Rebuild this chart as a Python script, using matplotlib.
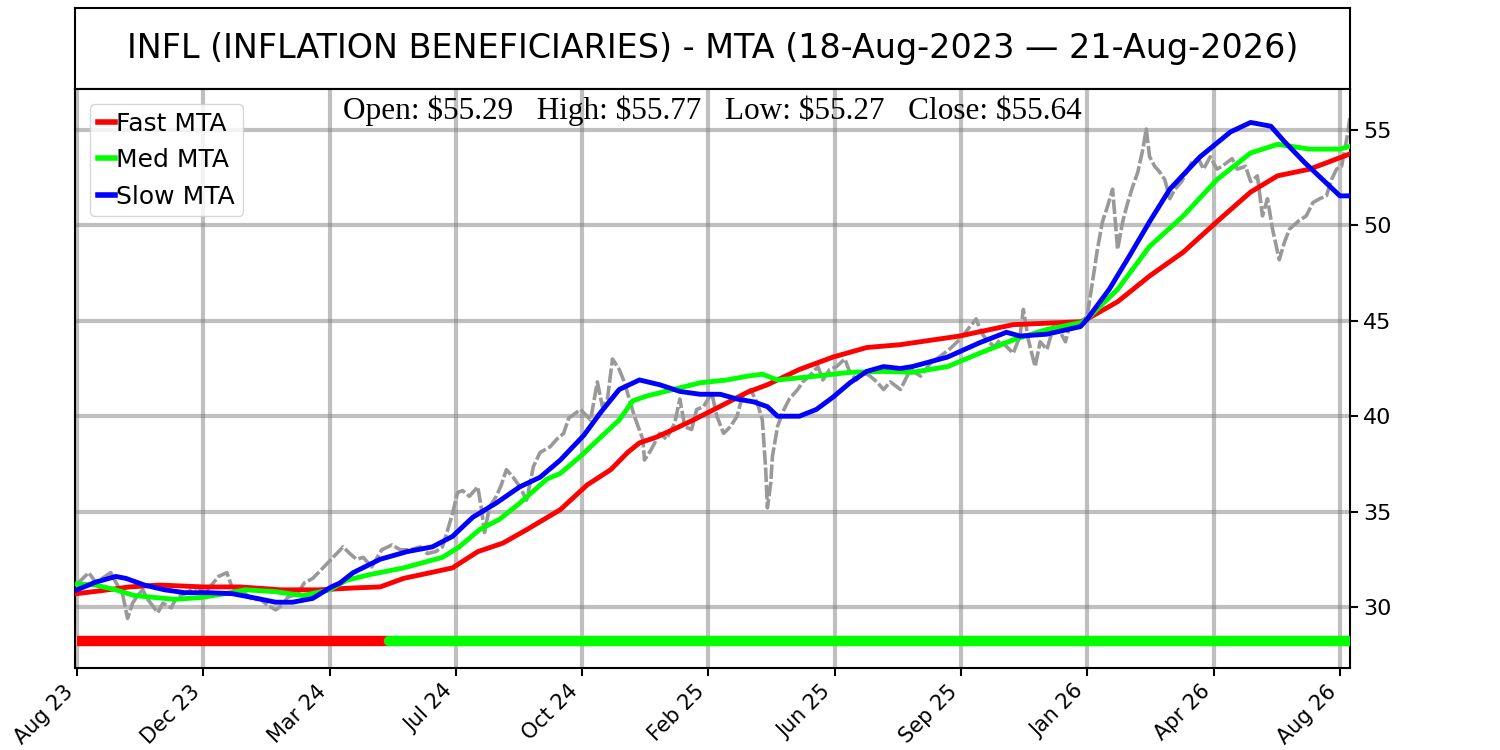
import matplotlib
matplotlib.use("Agg")
import matplotlib.pyplot as plt

# ---------------- data ----------------
title_text = "INFL (INFLATION BENEFICIARIES) - MTA (18-Aug-2023 \u2014 21-Aug-2026)"
last_open, last_high, last_low, last_close = 55.29, 55.77, 55.27, 55.64
n_bars = 757

tick_labels = ["Aug 23", "Dec 23", "Mar 24", "Jul 24", "Oct 24", "Feb 25",
               "Jun 25", "Sep 25", "Jan 26", "Apr 26", "Aug 26"]
tick_step = 75

price_idx = [0, 7, 11, 15, 20, 23, 27, 30, 33, 36, 39, 42, 48, 51, 56, 59, 64, 68, 72, 75,
             79, 84, 89, 92, 96, 100, 104, 109, 113, 118, 122, 125, 131, 135, 140, 145, 151,
             158, 162, 166, 170, 175, 181, 187, 192, 198, 204, 208, 213, 217, 220, 223, 226,
             229, 233, 238, 240, 242, 245, 249, 252, 255, 259, 263, 267, 271, 275, 281, 285,
             289, 292, 299, 305, 309, 312, 315, 318, 322, 325, 328, 331, 336, 337, 341, 346,
             350, 355, 358, 361, 365, 368, 372, 377, 380, 384, 388, 392, 395, 400, 404, 407,
             409, 410, 412, 413, 416, 419, 423, 428, 431, 435, 440, 443, 447, 451, 456, 459,
             463, 467, 471, 475, 479, 483, 489, 495, 501, 507, 512, 518, 524, 529, 534, 537,
             541, 545, 548, 552, 556, 560, 562, 565, 569, 572, 576, 580, 584, 587, 590, 594,
             597, 600, 603, 606, 609, 612, 615, 617, 618, 621, 624, 627, 630, 633, 635, 637,
             640, 643, 646, 649, 652, 656, 659, 662, 666, 669, 673, 677, 680, 686, 689, 694,
             697, 701, 704, 707, 710, 714, 717, 720, 725, 730, 734, 738, 742, 745, 748, 751,
             754, 756]
price_val = [31.2, 31.8, 31.3, 31.5, 31.8, 31.3, 30.7, 29.4, 30.2, 30.6, 30.9, 30.4, 29.7, 30.2,
             29.95, 30.5, 30.7, 30.9, 31.05, 30.7, 31.05, 31.6, 31.8, 31.05, 30.8, 30.7, 30.4,
             30.4, 30.1, 29.85, 30.1, 30.5, 30.7, 31.26, 31.5, 31.95, 32.5, 33.15, 32.8, 32.5,
             32.6, 32.1, 33.0, 33.25, 33.0, 33.0, 33.15, 32.8, 32.9, 33.15, 34.0, 34.9, 36.0,
             36.1, 35.8, 36.3, 35.25, 33.9, 35.25, 35.8, 36.4, 37.2, 36.8, 36.3, 35.6, 37.35,
             38.1, 38.4, 38.8, 39.1, 39.9, 40.35, 39.8, 41.8, 40.5, 40.9, 43.0, 42.45, 41.8,
             40.9, 40.0, 38.8, 37.7, 38.25, 39.1, 38.8, 39.65, 40.9, 39.45, 39.3, 40.35, 40.5,
             41.2, 40.0, 39.1, 39.45, 40.0, 41.0, 41.4, 40.7, 39.8, 37.2, 35.2, 36.5, 37.9,
             39.45, 40.2, 40.9, 41.4, 41.8, 42.1, 42.6, 41.9, 42.45, 42.6, 43.0, 42.3, 41.9,
             42.3, 42.1, 41.8, 41.4, 41.8, 41.4, 42.45, 42.1, 42.8, 43.1, 43.5, 44.0, 44.55,
             45.1, 44.4, 43.9, 43.65, 44.0, 43.65, 43.3, 44.2, 45.6, 44.0, 42.6, 43.9, 43.5,
             44.7, 44.4, 43.9, 44.9, 44.7, 44.9, 45.3, 47.0, 48.75, 50.2, 51.0, 51.9, 49.8,
             48.75, 50.2, 51.2, 52.05, 52.8, 54.0, 55.05, 53.6, 53.1, 52.8, 52.4, 51.4, 51.9,
             52.3, 52.8, 53.3, 53.5, 52.95, 53.6, 52.95, 53.1, 53.5, 52.95, 53.1, 52.3, 52.6,
             50.5, 51.4, 49.8, 48.2, 49.1, 49.8, 50.2, 50.5, 51.2, 51.4, 51.55, 52.4, 52.95,
             53.1, 54.5, 55.64]

fast_idx = [0, 14, 31, 49, 75, 97, 121, 144, 165, 180, 194, 210, 223, 238, 253, 267, 287,
            303, 317, 327, 334, 344, 354, 366, 376, 386, 398, 410, 429, 449, 469, 489, 524,
            556, 596, 600, 618, 637, 657, 677, 697, 713, 732, 756]
fast_val = [30.7, 30.85, 31.05, 31.15, 31.05, 31.05, 30.9, 30.9, 31.0, 31.05, 31.5, 31.8,
            32.05, 32.9, 33.35, 34.05, 35.1, 36.4, 37.2, 38.1, 38.6, 38.9, 39.3, 39.8, 40.25,
            40.7, 41.25, 41.65, 42.45, 43.1, 43.6, 43.75, 44.2, 44.8, 44.95, 45.1, 46.0, 47.35,
            48.6, 50.2, 51.75, 52.6, 52.95, 53.75]

med_idx = [0, 11, 23, 34, 46, 58, 74, 88, 100, 118, 134, 145, 150, 160, 174, 194, 217, 227,
           239, 251, 263, 279, 287, 299, 311, 322, 330, 338, 354, 370, 386, 398, 407, 416,
           439, 459, 479, 496, 517, 536, 556, 576, 596, 600, 618, 637, 657, 677, 697, 713,
           732, 750, 756]
med_val = [31.2, 31.15, 30.9, 30.6, 30.5, 30.4, 30.5, 30.7, 30.9, 30.8, 30.6, 30.8, 30.9,
           31.4, 31.7, 32.05, 32.6, 33.15, 34.05, 34.6, 35.45, 36.7, 37.0, 37.9, 38.9, 39.8,
           40.8, 41.05, 41.4, 41.75, 41.9, 42.1, 42.2, 41.9, 42.1, 42.3, 42.35, 42.3, 42.6,
           43.3, 44.0, 44.55, 44.9, 45.1, 46.65, 48.9, 50.5, 52.4, 53.8, 54.25, 54.0, 54.0,
           54.15]

slow_idx = [0, 11, 23, 29, 40, 52, 64, 78, 92, 104, 118, 128, 140, 151, 156, 164, 180, 196,
            211, 223, 235, 249, 263, 275, 287, 301, 311, 322, 334, 346, 358, 370, 382, 392,
            402, 410, 416, 429, 439, 449, 459, 469, 479, 489, 496, 517, 536, 552, 560, 576,
            596, 600, 613, 625, 637, 649, 667, 685, 697, 709, 717, 729, 741, 750, 756]
slow_val = [30.9, 31.3, 31.6, 31.5, 31.15, 30.9, 30.75, 30.75, 30.7, 30.5, 30.25, 30.25,
            30.45, 31.05, 31.25, 31.8, 32.5, 32.9, 33.15, 33.7, 34.7, 35.45, 36.3, 36.8, 37.7,
            39.0, 40.2, 41.4, 41.9, 41.65, 41.3, 41.15, 41.15, 40.9, 40.75, 40.5, 40.0, 40.0,
            40.35, 41.0, 41.75, 42.35, 42.6, 42.5, 42.6, 43.1, 43.85, 44.4, 44.2, 44.3, 44.7,
            45.1, 46.65, 48.4, 50.2, 51.9, 53.6, 54.9, 55.4, 55.2, 54.4, 53.3, 52.3, 51.55,
            51.55]

regime_bounds = [0, 185, 756]
regime_colors = ["#ff0000", "#00ff00"]
regime_level = 28.2

# ---------------- figure ----------------
fig = plt.figure(figsize=(15, 7.5), dpi=100)
ax_t = fig.add_axes([0.05, 0.8813, 0.85, 0.108])
ax_t.set_xticks([])
ax_t.set_yticks([])
for s in ax_t.spines.values():
    s.set_linewidth(1.5)
ax_t.text(0.5, 0.5, title_text, ha="center", va="center", fontsize=24,
          transform=ax_t.transAxes)

ax = fig.add_axes([0.05, 0.1093, 0.85, 0.772])
for s in ax.spines.values():
    s.set_linewidth(1.5)

ax.grid(True, color="gray", alpha=0.5, linewidth=3)
ax.set_axisbelow(True)

ax.plot(price_idx, price_val, color="#999999", linewidth=2.6, linestyle=(0, (4, 0.8)),
        zorder=2)
ax.plot(fast_idx, fast_val, color="#ff0000", linewidth=3.5, label="Fast MTA", zorder=3)
ax.plot(med_idx, med_val, color="#00ff00", linewidth=3.5, label="Med MTA", zorder=3)
ax.plot(slow_idx, slow_val, color="#0000ff", linewidth=3.5, label="Slow MTA", zorder=3)

for i, c in enumerate(regime_colors):
    ax.plot([regime_bounds[i], regime_bounds[i + 1]], [regime_level, regime_level],
            color=c, linewidth=7.5, solid_capstyle="round" if i > 0 else "butt", zorder=4)

ax.set_xlim(-1.2, n_bars - 1)
ax.set_ylim(26.8, 57.15)
ax.set_yticks([30, 35, 40, 45, 50, 55])
ax.yaxis.tick_right()
ax.tick_params(axis="y", labelsize=16, width=1.5, length=6)
ax.set_xticks([i * tick_step for i in range(len(tick_labels))])
ax.set_xticklabels(tick_labels, rotation=45, ha="right")
ax.tick_params(axis="x", labelsize=15, width=1.5, length=6)

ohlc = (f"Open: \\${last_open:.2f}   High: \\${last_high:.2f}   "
        f"Low: \\${last_low:.2f}   Close: \\${last_close:.2f}")
ax.text(0.5, 0.988, ohlc, transform=ax.transAxes, ha="center", va="top",
        fontsize=22.5, family="Liberation Serif")

leg = ax.legend(loc="upper left", fontsize=18, handlelength=0.7, handletextpad=0.05,
                borderpad=0.3, labelspacing=0.5, borderaxespad=0.6)
for line in leg.get_lines():
    line.set_linewidth(4)

fig.savefig("out.png", dpi=100)
